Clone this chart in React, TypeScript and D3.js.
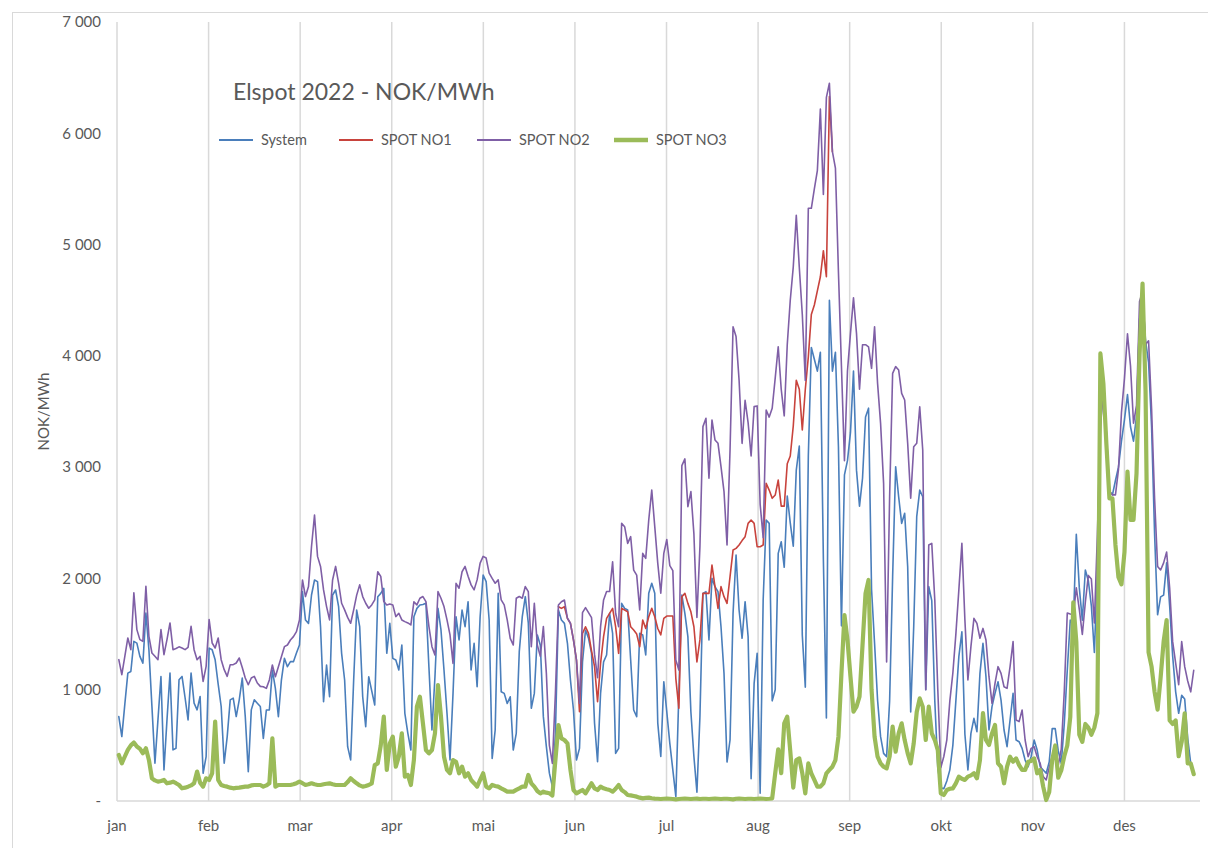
import React from "react";
import * as d3 from "d3";

// Elspot 2022, daily prices NOK/MWh
const months = ["jan", "feb", "mar", "apr", "mai", "jun", "jul", "aug", "sep", "okt", "nov", "des"];
const yTicks = [0, 1000, 2000, 3000, 4000, 5000, 6000, 7000];

const system = [
  759, 579, 870, 1149, 1164, 1434, 1419, 1300, 1239, 1689,
  1359, 850, 339, 729, 1119, 279, 729, 1149, 459, 474,
  1089, 1119, 930, 729, 1149, 879, 819, 939, 249, 399,
  1374, 1359, 1269, 1050, 849, 339, 579, 909, 924, 759,
  909, 1104, 759, 264, 819, 909, 879, 849, 563, 818,
  818, 1177, 1012, 758, 1087, 1282, 1207, 1252, 1252, 1330,
  1402, 1881, 1626, 1596, 1851, 1986, 1971, 1566, 892, 1222,
  937, 1851, 1896, 1746, 1327, 1087, 488, 369, 1087, 1716,
  1566, 937, 668, 1117, 990, 863, 1836, 1866, 1911, 1327,
  1596, 1282, 1267, 1177, 1402, 788, 608, 458, 1656, 1731,
  1761, 1765, 1776, 1200, 638, 1117, 1731, 1537, 1177, 788,
  368, 967, 1656, 1447, 1716, 1566, 1791, 1177, 1417, 1027,
  1656, 2031, 1971, 1626, 383, 638, 1866, 982, 967, 877,
  937, 458, 608, 1342, 1656, 1836, 1600, 833, 967, 1492,
  1400, 758, 488, 250, 129, 600, 1716, 1626, 1596, 1417,
  1087, 818, 368, 473, 1250, 1536, 1462, 1327, 700, 353,
  967, 1250, 1312, 1686, 1507, 428, 473, 1776, 1731, 1716,
  1267, 818, 758, 1507, 1492, 1312, 1866, 1956, 1866, 700,
  400, 1072, 800, 518, 279, 39, 967, 1851, 1686, 1477,
  800, 400, 80, 758, 1866, 1881, 1447, 2001, 1926, 1881,
  1566, 1147, 350, 548, 1686, 2210, 1716, 1462, 1791, 1477,
  200, 1057, 1327, 69, 1806, 2525, 2495, 900, 1000, 2225,
  2330, 2100, 2740, 2500, 2290, 2974, 3190, 1489, 1023, 3100,
  4075, 3969, 3863, 4033, 2168, 747, 4500, 3863, 4033, 3185,
  1574, 2931, 3058, 3312, 3863, 2973, 2650, 2900, 3450, 3530,
  1900, 1417, 907, 578, 428, 398, 900, 2015, 3004, 2734,
  2495, 2585, 2105, 800, 1566, 2555, 2794, 2734, 1000, 1926,
  1800, 900, 300, 120, 110, 180, 280, 500, 900, 1300,
  1521, 600, 280, 608, 743, 623, 1147, 1417, 1117, 638,
  848, 967, 1072, 907, 638, 488, 728, 967, 548, 533,
  473, 368, 308, 400, 548, 458, 308, 279, 249, 350,
  650, 650, 450, 338, 692, 1175, 1625, 1593, 2397, 1915,
  1625, 2076, 1979, 1754, 1335, 2076, 3363, 3749, 3300, 2784,
  2751, 2880, 3000, 3234, 3427, 3652, 3363, 3234, 3459, 4328,
  4521, 4135, 3942, 3363, 2397, 1673, 1834, 1850, 2140, 1754,
  1303, 981, 788, 949, 917, 563, 338, 241,
];

// NO1 is only seen where it parts from NO2 (june - august), elsewhere it lies under NO2
const spotNo1Start = 146;
const spotNo1 = [
  1746, 1731, 1746, 1641, 1596, 1447, 1267, 803, 1507, 1566,
  1507, 1350, 1207, 893, 1237, 1477, 1641, 1686, 1731, 1566,
  1327, 1731, 1716, 1701, 1566, 1536, 1500, 1387, 1626, 1551,
  1656, 1731, 1656, 1550, 1492, 1641, 1662, 1662, 1662, 1100,
  833, 1836, 1866, 1776, 1700, 1566, 1250, 1450, 1866, 1866,
  1866, 2120, 1926, 1731, 1926, 1836, 1776, 2016, 2255, 2270,
  2300, 2340, 2375, 2495, 2525, 2495, 2285, 2285, 2300, 2854,
  2794, 2720, 2749, 2884, 2650, 2650, 3030, 3100, 3370, 3780,
  3700, 3334, 3700, 3991, 4372, 4457, 4584, 4711, 4945, 4711,
  6330, 5835,
];

const spotNo2 = [
  1270, 1135, 1300, 1465, 1360, 1870, 1540, 1450, 1435, 1930,
  1480, 1330, 1300, 1270, 1540, 1315, 1450, 1600, 1360, 1370,
  1385, 1375, 1360, 1380, 1570, 1360, 1270, 1300, 1075, 1210,
  1630, 1420, 1375, 1465, 1270, 1180, 1120, 1225, 1225, 1240,
  1285, 1200, 1105, 1045, 1105, 1120, 1060, 1030, 1027, 1012,
  1087, 1222, 1117, 1207, 1297, 1387, 1402, 1447, 1477, 1522,
  1627, 1986, 1837, 1927, 2287, 2570, 2198, 2108, 1897, 1747,
  1627, 1986, 2108, 1957, 1777, 1717, 1650, 1597, 1717, 1850,
  1942, 1837, 1777, 1732, 1762, 1807, 2060, 2018, 1792, 1762,
  1770, 1762, 1657, 1687, 1627, 1612, 1600, 1582, 1790, 1762,
  1822, 1837, 1792, 1567, 1387, 1312, 1881, 1822, 1747, 1627,
  1492, 1237, 1956, 1912, 2060, 2108, 2020, 1942, 1897, 1987,
  2138, 2198, 2183, 2048, 2000, 1957, 1987, 1807, 1762, 1627,
  1462, 1402, 1822, 1837, 1822, 1927, 1882, 1387, 1777, 1400,
  1300, 1567, 1147, 500, 338, 967, 1761, 1791, 1806, 1642,
  1597, 1447, 1267, 877, 1692, 1737, 1692, 1647, 1317, 1108,
  1567, 1807, 1882, 1882, 2150, 1687, 1567, 2495, 2465, 2315,
  2375, 2075, 2030, 1717, 2225, 2180, 2525, 2794, 2465, 2135,
  1867, 2225, 2350, 2115, 2070, 1267, 1177, 3014, 3074, 2645,
  2780, 2400, 1650, 2286, 3364, 3439, 2900, 3424, 3244, 3214,
  3004, 2780, 2301, 3154, 4262, 4173, 3783, 3214, 3600, 3400,
  3100, 3544, 3550, 2666, 2366, 3514, 3450, 3529, 3800, 4082,
  3700, 3461, 4100, 4500, 4800, 5263, 4796, 4372, 3779, 5326,
  5326, 5500, 5665, 6217, 5450, 6323, 6450, 5835, 5687, 4754,
  3906, 3058, 3864, 4202, 4521, 4202, 3700, 4100, 4100, 4080,
  3888, 4262, 3753, 3393, 2854, 1250, 2734, 3843, 3903, 3873,
  3663, 3603, 3214, 2720, 3184, 3214, 3543, 3154, 1000, 2300,
  2315, 1806, 1000, 300, 400, 550, 900, 1150, 1500, 1900,
  2315, 1626, 1087, 1387, 1641, 1596, 1462, 1551, 1447, 1117,
  878, 1057, 1207, 1147, 1027, 1012, 1207, 1432, 728, 713,
  818, 548, 398, 473, 488, 398, 338, 219, 189, 300,
  400, 460, 320, 467, 981, 1689, 1680, 1673, 1915, 1722,
  1496, 1786, 2027, 1995, 1600, 2397, 3363, 3685, 3300, 2784,
  2751, 2751, 2977, 3492, 3800, 4199, 3910, 3395, 3556, 4489,
  4580, 4103, 4135, 3524, 2719, 2108, 2076, 2140, 2237, 1915,
  1432, 1239, 1046, 1432, 1207, 1078, 981, 1175,
];

const spotNo3 = [
  414, 339, 400, 459, 500, 525, 489, 470, 429, 474,
  369, 204, 185, 174, 180, 189, 159, 165, 174, 160,
  144, 114, 120, 129, 140, 159, 264, 165, 129, 204,
  189, 249, 714, 189, 144, 135, 129, 120, 114, 118,
  120, 125, 129, 130, 140, 144, 144, 144, 129, 140,
  159, 563, 129, 144, 144, 144, 144, 144, 150, 160,
  174, 160, 144, 150, 159, 150, 144, 144, 150, 155,
  159, 150, 144, 144, 144, 144, 170, 204, 180, 159,
  140, 129, 135, 144, 159, 323, 338, 500, 758, 279,
  518, 578, 308, 400, 608, 219, 234, 144, 368, 848,
  937, 698, 458, 428, 458, 608, 1042, 758, 398, 279,
  249, 368, 353, 249, 308, 219, 249, 189, 160, 129,
  189, 249, 129, 114, 144, 135, 129, 114, 100, 84,
  84, 84, 100, 114, 129, 129, 234, 159, 129, 90,
  69, 84, 75, 69, 50, 368, 683, 563, 548, 518,
  279, 99, 69, 84, 99, 69, 114, 159, 114, 99,
  129, 114, 105, 99, 84, 110, 144, 99, 80, 54,
  50, 45, 39, 30, 24, 28, 30, 25, 22, 20,
  18, 20, 22, 20, 18, 15, 18, 20, 22, 20,
  18, 20, 22, 18, 20, 20, 18, 20, 22, 20,
  18, 20, 20, 18, 15, 20, 22, 20, 18, 20,
  20, 18, 20, 22, 20, 18, 20, 24, 249, 465,
  250, 698, 758, 450, 120, 368, 383, 249, 69, 338,
  249, 189, 129, 129, 159, 249, 279, 308, 368, 578,
  1147, 1671, 1447, 1117, 803, 848, 937, 1400, 1866, 1986,
  1000, 578, 398, 338, 308, 293, 400, 668, 443, 608,
  698, 548, 428, 338, 518, 800, 922, 848, 548, 848,
  608, 548, 458, 69, 54, 99, 110, 114, 159, 219,
  200, 189, 219, 230, 249, 204, 368, 790, 548, 503,
  608, 683, 338, 308, 159, 308, 398, 353, 383, 323,
  279, 279, 353, 360, 383, 249, 279, 129, 9, 80,
  370, 499, 209, 274, 402, 499, 756, 1786, 1432, 595,
  531, 692, 660, 595, 660, 788, 4022, 3749, 3202, 2719,
  2719, 2301, 2011, 1947, 2237, 2960, 2526, 2526, 2945, 4006,
  4650, 3685, 1335, 1207, 981, 821, 1110, 1432, 1625, 724,
  692, 724, 402, 531, 788, 338, 338, 241,
];

const series = [
  { name: "System", color: "#4a7ebb", width: 1.6, start: 0, values: system },
  { name: "SPOT NO1", color: "#c8433d", width: 1.6, start: spotNo1Start, values: spotNo1 },
  { name: "SPOT NO2", color: "#7f5fa6", width: 1.6, start: 0, values: spotNo2 },
  { name: "SPOT NO3", color: "#9bbb59", width: 4.2, start: 0, values: spotNo3 },
];

const fmt = d3.formatLocale({ decimal: ",", thousands: " ", grouping: [3], currency: ["", ""] }).format(",");

export default function App() {
  const width = 1208, height = 848;
  const left = 117, top = 22, bottom = 801, right = 1200;
  const font = "Lato, 'Open Sans', sans-serif";
  const grey = "#595959";

  const x = d3.scaleLinear().domain([0, 365]).range([left, left + 365 * 3.011]);
  const y = d3.scaleLinear().domain([0, 7000]).range([bottom, top]);
  const monthPos = months.map((_, i) => x((i * 365) / 12));

  const legendX = [219, 339, 477, 614];

  return (
    <svg width={width} height={height} style={{ position: "absolute", left: 0, top: 0, background: "#fff" }} fontFamily={font}>
      <rect x={12.5} y={12.5} width={1200} height={850} fill="none" stroke="#d9d9d9" strokeWidth={1} />

      {monthPos.map((p, i) => (
        <line key={"g" + i} x1={p} x2={p} y1={top} y2={bottom} stroke="#d9d9d9" strokeWidth={1.5} />
      ))}
      <line x1={left} x2={right} y1={bottom} y2={bottom} stroke="#d9d9d9" strokeWidth={1.5} />

      {yTicks.map((t) => (
        <text key={"y" + t} x={101} y={y(t)} dy="0.35em" textAnchor="end" fontSize={15} fill={grey}>
          {t === 0 ? "-" : fmt(t)}
        </text>
      ))}
      {months.map((m, i) => (
        <text key={"m" + m} x={monthPos[i]} y={826} dy="0.35em" textAnchor="middle" fontSize={15} fill={grey}>
          {m}
        </text>
      ))}
      <text transform={`translate(44,${(top + bottom) / 2}) rotate(-90)`} textAnchor="middle" dy="0.35em" fontSize={15} fill={grey}>
        NOK/MWh
      </text>

      {series.map((s) => {
        const line = d3
          .line<number>()
          .x((_, i) => x(s.start + i + 0.6))
          .y((v) => y(v));
        return (
          <path key={s.name} d={line(s.values) || ""} fill="none" stroke={s.color} strokeWidth={s.width}
            strokeLinejoin="round" strokeLinecap="round" />
        );
      })}

      <text x={233} y={92} dy="0.35em" fontSize={23} fill={grey}>
        Elspot 2022 - NOK/MWh
      </text>
      {series.map((s, i) => (
        <g key={"l" + s.name} transform={`translate(${legendX[i]},140)`}>
          <line x1={0} x2={34} y1={0} y2={0} stroke={s.color} strokeWidth={s.width > 3 ? 4.5 : 1.8} />
          <text x={42} y={0} dy="0.35em" fontSize={14.5} fill={grey}>
            {s.name}
          </text>
        </g>
      ))}
    </svg>
  );
}
